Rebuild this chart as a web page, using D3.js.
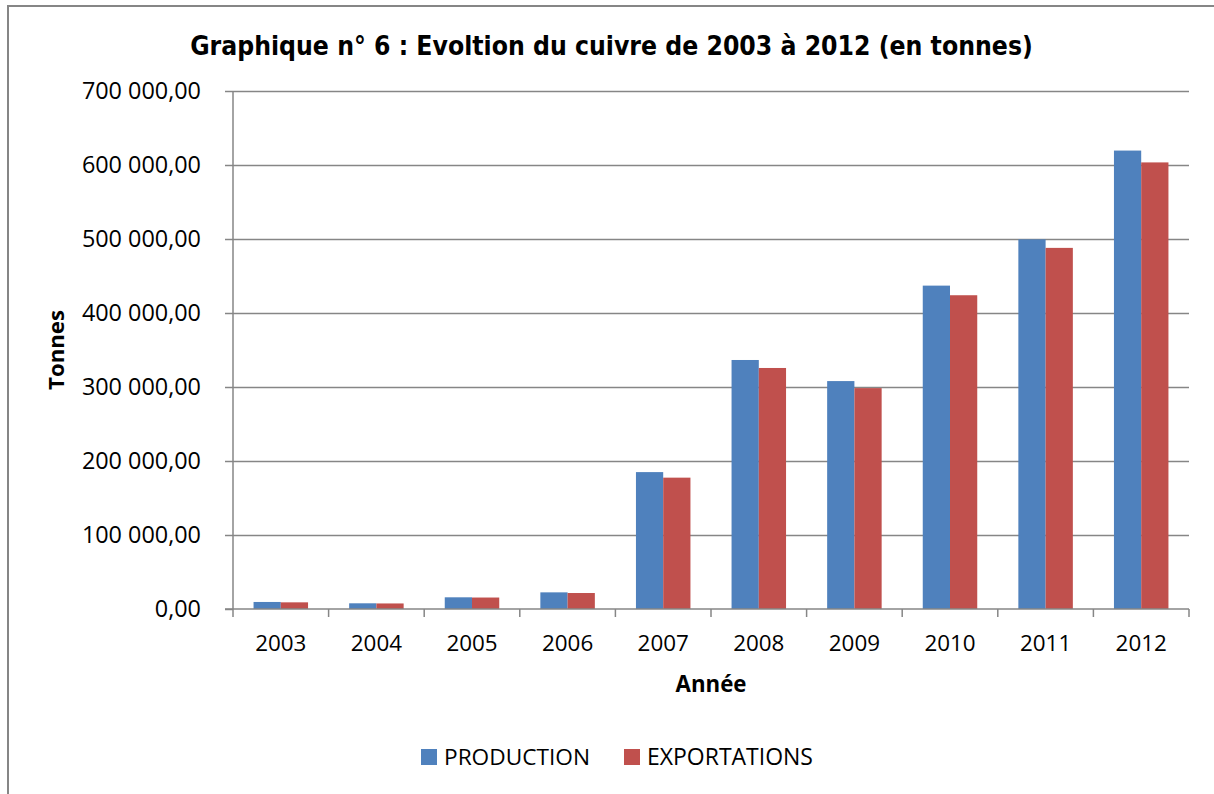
<!DOCTYPE html>
<html><head><meta charset="utf-8">
<script src="https://cdn.jsdelivr.net/npm/d3@7/dist/d3.min.js"></script>
<style>body{margin:0;background:#fff}svg{display:block}</style>
</head><body>
<svg id="c" width="1214" height="794"></svg>
<script>
const years = ["2003","2004","2005","2006","2007","2008","2009","2010","2011","2012"];
const production = [9500, 7700, 15800, 22500, 185000, 336500, 308000, 437000, 499500, 619500];
const exportations = [9000, 7500, 15500, 21600, 177500, 325700, 298500, 424000, 488000, 603500];
const seriesNames = ["PRODUCTION", "EXPORTATIONS"];
const colors = ["#4F81BD", "#C0504D"];
const yTicks = [0, 100000, 200000, 300000, 400000, 500000, 600000, 700000];

const svg = d3.select("#c");
const m = {left: 233, right: 1189, top: 91, bottom: 609};

function fit(sel, target) {
  const s = +sel.attr("font-size");
  const w = sel.node().getComputedTextLength();
  if (w > 0) sel.attr("font-size", s * target / w);
  return sel;
}

// outer border
svg.append("rect").attr("x", 8).attr("y", 6).attr("width", 1214).attr("height", 800)
  .attr("fill", "none").attr("stroke", "#868686").attr("stroke-width", 2);

const x = d3.scaleBand().domain(years).range([m.left, m.right]).paddingInner(0.43).paddingOuter(0.215);
const xs = d3.scaleBand().domain(seriesNames).range([0, x.bandwidth()]);
const y = d3.scaleLinear().domain([0, 700000]).range([m.bottom, m.top]);

const fmt = v => d3.format(",.2f")(v).replace(/,/g, " ").replace(".", ",");

// gridlines
svg.append("g").selectAll("line").data(yTicks.slice(1)).join("line")
  .attr("x1", m.left).attr("x2", m.right)
  .attr("y1", d => Math.round(y(d)) + 0.5).attr("y2", d => Math.round(y(d)) + 0.5)
  .attr("stroke", "#868686").attr("stroke-width", 1.5);

// bars
const data = years.map((yr, i) => ({yr, vals: [production[i], exportations[i]]}));
const g = svg.append("g");
data.forEach(d => {
  d.vals.forEach((v, j) => {
    g.append("rect")
      .attr("x", x(d.yr) + xs(seriesNames[j]))
      .attr("y", y(v))
      .attr("width", xs.bandwidth())
      .attr("height", y(0) - y(v))
      .attr("fill", colors[j]);
  });
});

// y axis
const yAxis = d3.axisLeft(y).tickValues(yTicks).tickFormat(fmt).tickSize(8).tickPadding(24);
const ya = svg.append("g").attr("transform", `translate(${m.left},0)`).call(yAxis);
ya.select(".domain").attr("stroke", "#868686").attr("stroke-width", 1.5).attr("d", `M0,${m.top}V${m.bottom}`);
ya.selectAll(".tick line").attr("stroke", "#868686").attr("stroke-width", 1.5);
ya.selectAll("text").attr("font-family", "Open Sans").attr("font-size", 23.4).attr("fill", "#000");

// x axis
const xAxis = d3.axisBottom(x).tickSize(0).tickPadding(26);
const xa = svg.append("g").attr("transform", `translate(0,${m.bottom})`).call(xAxis);
xa.select(".domain").attr("stroke", "#868686").attr("stroke-width", 1.5).attr("d", `M${m.left - 8},0H${m.right}`);
xa.selectAll("text").attr("font-family", "Open Sans").attr("font-size", 22.4).attr("fill", "#000");
// category boundary ticks
svg.append("g").selectAll("line").data(d3.range(years.length + 1)).join("line")
  .attr("x1", i => m.left + i * (m.right - m.left) / years.length)
  .attr("x2", i => m.left + i * (m.right - m.left) / years.length)
  .attr("y1", m.bottom).attr("y2", m.bottom + 8)
  .attr("stroke", "#868686").attr("stroke-width", 1.5);

// title
const title = svg.append("text").attr("x", 611.5).attr("y", 55).attr("text-anchor", "middle")
  .attr("font-family", "DejaVu Sans Condensed, DejaVu Sans").attr("font-weight", "bold").attr("font-size", 24)
  .text("Graphique n° 6 : Evoltion du cuivre de 2003 à 2012 (en tonnes)");
fit(title, 843);

// axis titles
const tt = svg.append("text").attr("transform", "translate(64,350) rotate(-90)").attr("text-anchor", "middle")
  .attr("font-family", "Open Sans").attr("font-weight", "bold").attr("font-size", 20).text("Tonnes");
fit(tt, 80);
const at = svg.append("text").attr("x", 711).attr("y", 692).attr("text-anchor", "middle")
  .attr("font-family", "Open Sans").attr("font-weight", "bold").attr("font-size", 20).text("Année");
fit(at, 71);

// legend
const leg = [{x: 421, tx: 444, w: 146}, {x: 624, tx: 647, w: 166}];
seriesNames.forEach((n, i) => {
  svg.append("rect").attr("x", leg[i].x).attr("y", 749).attr("width", 16).attr("height", 16).attr("fill", colors[i]);
  const t = svg.append("text").attr("x", leg[i].tx).attr("y", 765).attr("font-family", "Open Sans").attr("font-size", 20).text(n);
  fit(t, leg[i].w);
});
</script>
</body></html>
